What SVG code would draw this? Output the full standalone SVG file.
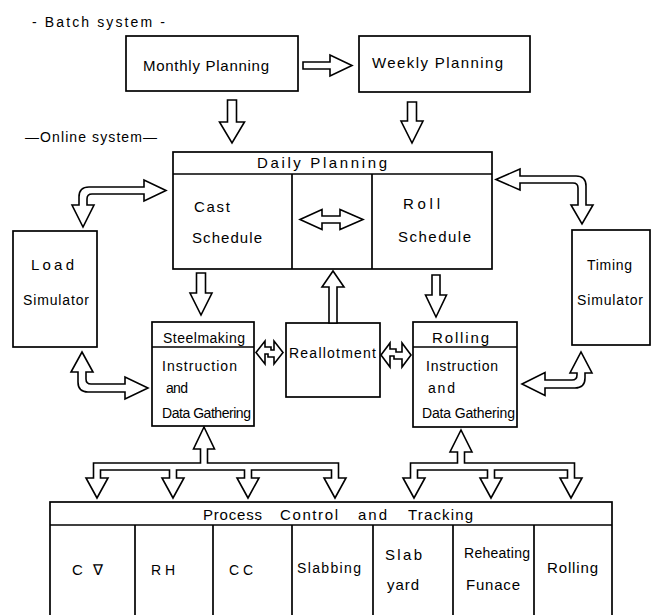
<svg xmlns="http://www.w3.org/2000/svg" width="653" height="615" viewBox="0 0 653 615">
<style>
.b{fill:#fff;stroke:#000;stroke-width:1.7}
.l{fill:none;stroke:#000;stroke-width:1.7}
.a{fill:#fff;stroke:#000;stroke-width:1.6;stroke-linejoin:miter}
text{font-family:"Liberation Sans",Arial,sans-serif;font-size:15px;fill:#000}
.s{font-size:14px}
</style>
<rect width="653" height="615" fill="#fff"/>
<text x="32" y="27" class="s" textLength="133">- Batch   system -</text>
<text x="25" y="142" class="s" textLength="132">—Online  system—</text>

<g id="monthly"><rect class="b" x="126" y="36" width="172" height="55"/><text x="143" y="71" textLength="126">Monthly  Planning</text></g>
<g id="weekly"><rect class="b" x="359" y="36" width="171" height="56"/><text x="372" y="68" textLength="131">Weekly   Planning</text></g>

<g id="daily">
<rect class="b" x="173" y="152" width="319" height="117"/>
<line class="l" x1="173" y1="174" x2="492" y2="174"/>
<line class="l" x1="292" y1="174" x2="292" y2="269"/>
<line class="l" x1="372" y1="174" x2="372" y2="269"/>
<text x="257" y="168" textLength="130">Daily   Planning</text>
<text x="194" y="212" textLength="36">Cast</text>
<text x="192" y="243" textLength="70">Schedule</text>
<text x="403" y="209" textLength="37">Roll</text>
<text x="398" y="242" textLength="73">Schedule</text>
</g>

<g id="load"><rect class="b" x="13" y="231" width="84" height="116"/><text x="31" y="270" textLength="43">Load</text><text x="23" y="305" class="s" textLength="66">Simulator</text></g>
<g id="timing"><rect class="b" x="572" y="230" width="78" height="115"/><text x="587" y="270" class="s" textLength="45">Timing</text><text x="577" y="305" class="s" textLength="66">Simulator</text></g>

<g id="steelmaking">
<rect class="b" x="152" y="322" width="102" height="104"/>
<line class="l" x1="152" y1="347" x2="254" y2="347"/>
<text x="163" y="343" class="s" textLength="82">Steelmaking</text>
<text x="162" y="371" class="s" textLength="75">Instruction</text>
<text x="166" y="393" class="s" textLength="22">and</text>
<text x="162" y="418" class="s" textLength="89">Data Gathering</text>
</g>
<g id="reallotment"><rect class="b" x="286" y="323" width="94" height="74"/><text x="289" y="358" class="s" textLength="87">Reallotment</text></g>
<g id="rolling">
<rect class="b" x="413" y="322" width="104" height="105"/>
<line class="l" x1="413" y1="347" x2="517" y2="347"/>
<text x="432" y="343" textLength="57">Rolling</text>
<text x="426" y="371" class="s" textLength="72">Instruction</text>
<text x="428" y="393" class="s" textLength="27">and</text>
<text x="422" y="418" class="s" textLength="93">Data Gathering</text>
</g>

<g id="process">
<rect class="b" x="50" y="502" width="562" height="120"/>
<line class="l" x1="50" y1="525" x2="612" y2="525"/>
<line class="l" x1="135" y1="525" x2="135" y2="620"/>
<line class="l" x1="213" y1="525" x2="213" y2="620"/>
<line class="l" x1="292" y1="525" x2="292" y2="620"/>
<line class="l" x1="373" y1="525" x2="373" y2="620"/>
<line class="l" x1="453" y1="525" x2="453" y2="620"/>
<line class="l" x1="534" y1="525" x2="534" y2="620"/>
<text x="203" y="520" textLength="59">Process</text>
<text x="280" y="520" textLength="58">Control</text>
<text x="358" y="520" textLength="29">and</text>
<text x="408" y="520" textLength="65">Tracking</text>
<text x="72" y="575" textLength="31">C  ∇</text>
<text x="151" y="575" class="s">R H</text>
<text x="229" y="575" class="s">C C</text>
<text x="297" y="573" textLength="64" class="s">Slabbing</text>
<text x="385" y="560" textLength="37">Slab</text>
<text x="387" y="590" textLength="32">yard</text>
<text x="464" y="558" textLength="66" class="s">Reheating</text>
<text x="466" y="590" textLength="54">Funace</text>
<text x="547" y="573" textLength="51">Rolling</text>
</g>

<g id="connectors">
<path class="a" d="M303 62 L330 62 L330 55 L352 65.5 L330 76 L330 69 L303 69 Z"/>
<path class="a" d="M227.5 100 L236.5 100 L236.5 122 L244.5 122 L232 143 L219.5 122 L227.5 122 Z"/>
<path class="a" d="M407.5 102 L416.5 102 L416.5 121 L423 121 L412 143 L401 121 L407.5 121 Z"/>
<path class="a" d="M196.5 273 L205.5 273 L205.5 293 L212 293 L201 315 L190 293 L196.5 293 Z"/>
<path class="a" d="M432 275 L440 275 L440 295 L446.5 295 L436 317 L425.5 295 L432 295 Z"/>
<path class="a" d="M329 323 L337 323 L337 287 L344 287 L333 271 L322 287 L329 287 Z"/>
<path class="a" d="M300 219.5 L322 209.5 L322 216 L340 216 L340 209.5 L363 219.5 L340 229.5 L340 223 L322 223 L322 229.5 Z"/>
<path class="a" d="M256 352.5 L265 341 L265 347 L271 347 L271 350 L274 350 L274 341 L283 352.5 L274 364 L274 357 L268 357 L268 354 L265 354 L265 364 Z"/>
<path class="a" d="M381 355 L390 343 L390 349 L396 349 L396 352 L402 352 L402 343 L411 355 L402 367 L402 359 L394 359 L394 356 L390 356 L390 367 Z"/>
<path class="a" d="M166 190.5 L144 180 L144 187 L89 187 Q79 187 79 197 L79 205 L72 205 L83 227 L94 205 L87 205 L87 199 Q87 194 92 194 L144 194 L144 201 Z"/>
<path class="a" d="M496 179.5 L520 169 L520 176 L576 176 Q586 176 586 186 L586 205 L593 205 L582 224 L571 205 L578 205 L578 188 Q578 183 573 183 L520 183 L520 190 Z"/>
<path class="a" d="M82 352 L93 372 L86 372 L86 379 Q86 384 91 384 L125 384 L125 377 L148 388 L125 399 L125 392 L88 392 Q78 392 78 382 L78 372 L71 372 Z"/>
<path class="a" d="M522 384 L545 372.5 L545 380 L572 380 Q577 380 577 375 L577 373 L570 373 L581 352 L592 373 L585 373 L585 378 Q585 388 575 388 L545 388 L545 395.5 Z"/>
<path class="a" d="M93.5 478 L86 478 L97 498 L108 478 L100.5 478 L100.5 470 L169.5 470 L169.5 478 L162 478 L173 498 L184 478 L176.5 478 L176.5 470 L244.5 470 L244.5 478 L237 478 L248 498 L259 478 L251.5 478 L251.5 470 L331.5 470 L331.5 478 L324 478 L335 498 L346 478 L338.5 478 L338.5 463 L207.5 463 L207.5 449 L214.5 449 L204 427 L193.5 449 L200.5 449 L200.5 463 L93.5 463 Z"/>
<path class="a" d="M410.5 478 L403 478 L414 498 L425 478 L417.5 478 L417.5 470 L487.5 470 L487.5 478 L480 478 L491 498 L502 478 L494.5 478 L494.5 470 L567.5 470 L567.5 478 L560 478 L571 498 L582 478 L574.5 478 L574.5 463 L464.5 463 L464.5 452 L472 452 L461 430 L450 452 L457.5 452 L457.5 463 L410.5 463 Z"/>
</g>
</svg>
